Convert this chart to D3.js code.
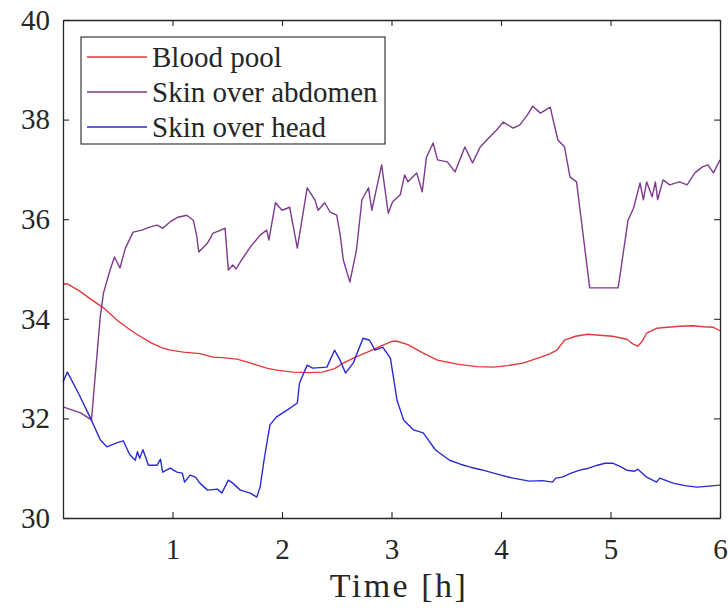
<!DOCTYPE html>
<html>
<head>
<meta charset="utf-8">
<script src="https://cdn.jsdelivr.net/npm/d3@7"></script>
<style>
  body { margin: 0; background: #ffffff; }
</style>
</head>
<body>
<svg id="svg" width="728" height="612"></svg>
<script>
//Data: [time in hours, temperature]
const bloodPool = [
  [0.00, 34.70], [0.04, 34.70], [0.15, 34.56], [0.25, 34.40], [0.37, 34.22], [0.50, 33.96],
  [0.60, 33.80], [0.68, 33.68], [0.80, 33.52], [0.90, 33.42], [0.98, 33.37], [1.10, 33.33],
  [1.25, 33.30], [1.37, 33.23], [1.45, 33.22], [1.59, 33.19], [1.70, 33.12], [1.80, 33.05],
  [1.86, 33.01], [1.95, 32.97], [2.10, 32.93], [2.25, 32.92], [2.37, 32.93], [2.48, 33.00],
  [2.56, 33.11], [2.66, 33.22], [2.78, 33.33], [2.90, 33.45], [3.01, 33.55], [3.05, 33.55],
  [3.15, 33.48], [3.28, 33.32], [3.42, 33.17], [3.60, 33.09], [3.78, 33.04], [3.93, 33.03],
  [4.06, 33.06], [4.20, 33.11], [4.35, 33.22], [4.45, 33.30], [4.51, 33.37], [4.58, 33.57],
  [4.68, 33.65], [4.79, 33.69], [4.90, 33.67], [5.02, 33.65], [5.15, 33.59], [5.20, 33.50],
  [5.25, 33.45], [5.29, 33.55], [5.33, 33.71], [5.42, 33.81], [5.52, 33.83], [5.63, 33.85],
  [5.75, 33.86], [5.85, 33.84], [5.94, 33.83], [6.00, 33.76]
];

const skinAbdomen = [
  [0.00, 32.23], [0.16, 32.11], [0.26, 31.97], [0.34, 34.04], [0.37, 34.52], [0.43, 34.98],
  [0.47, 35.24], [0.52, 35.02], [0.57, 35.42], [0.64, 35.74], [0.72, 35.78], [0.79, 35.84],
  [0.86, 35.88], [0.91, 35.82], [0.98, 35.95], [1.05, 36.04], [1.13, 36.08], [1.19, 35.98],
  [1.22, 35.68], [1.24, 35.34], [1.32, 35.52], [1.37, 35.72], [1.42, 35.76], [1.48, 35.82],
  [1.51, 34.98], [1.55, 35.08], [1.58, 35.00], [1.63, 35.18], [1.71, 35.44], [1.80, 35.68],
  [1.86, 35.78], [1.88, 35.58], [1.94, 36.33], [2.00, 36.18], [2.07, 36.24], [2.14, 35.42],
  [2.23, 36.63], [2.30, 36.39], [2.33, 36.18], [2.39, 36.33], [2.44, 36.14], [2.50, 36.08],
  [2.53, 35.70], [2.56, 35.18], [2.62, 34.74], [2.68, 35.38], [2.73, 36.39], [2.79, 36.63],
  [2.82, 36.18], [2.91, 37.09], [2.97, 36.12], [3.01, 36.35], [3.08, 36.49], [3.12, 36.89],
  [3.15, 36.75], [3.23, 36.93], [3.28, 36.55], [3.32, 37.25], [3.38, 37.53], [3.42, 37.19],
  [3.51, 37.15], [3.58, 36.95], [3.67, 37.45], [3.74, 37.13], [3.81, 37.45], [3.87, 37.59],
  [3.96, 37.79], [4.02, 37.95], [4.11, 37.83], [4.17, 37.89], [4.24, 38.09], [4.29, 38.27],
  [4.36, 38.13], [4.45, 38.25], [4.47, 38.05], [4.52, 37.59], [4.58, 37.45], [4.63, 36.85],
  [4.69, 36.75], [4.81, 34.62], [5.07, 34.62], [5.16, 35.98], [5.21, 36.22], [5.27, 36.73],
  [5.30, 36.39], [5.33, 36.75], [5.38, 36.45], [5.41, 36.75], [5.43, 36.39], [5.48, 36.79],
  [5.54, 36.69], [5.63, 36.75], [5.70, 36.69], [5.77, 36.93], [5.84, 37.05], [5.89, 37.09],
  [5.94, 36.93], [6.00, 37.19]
];

const skinHead = [
  [0.00, 32.73], [0.04, 32.93], [0.14, 32.51], [0.25, 32.01], [0.34, 31.57], [0.40, 31.43],
  [0.49, 31.51], [0.55, 31.55], [0.61, 31.27], [0.66, 31.16], [0.68, 31.33], [0.70, 31.20],
  [0.73, 31.37], [0.78, 31.06], [0.86, 31.06], [0.89, 31.18], [0.91, 30.92], [0.98, 31.00],
  [1.04, 30.92], [1.09, 30.90], [1.11, 30.72], [1.16, 30.86], [1.21, 30.82], [1.25, 30.70],
  [1.32, 30.56], [1.41, 30.58], [1.45, 30.50], [1.51, 30.76], [1.55, 30.70], [1.62, 30.56],
  [1.71, 30.50], [1.77, 30.42], [1.80, 30.62], [1.84, 31.22], [1.89, 31.87], [1.95, 32.03],
  [2.05, 32.17], [2.14, 32.31], [2.16, 32.71], [2.23, 33.07], [2.28, 33.01], [2.41, 33.03],
  [2.48, 33.37], [2.53, 33.17], [2.58, 32.91], [2.65, 33.11], [2.74, 33.61], [2.80, 33.57],
  [2.85, 33.37], [2.92, 33.43], [2.99, 33.21], [3.05, 32.37], [3.11, 31.97], [3.20, 31.77],
  [3.29, 31.71], [3.40, 31.37], [3.53, 31.16], [3.63, 31.08], [3.72, 31.02], [3.82, 30.97],
  [3.90, 30.92], [4.00, 30.86], [4.11, 30.80], [4.26, 30.74], [4.38, 30.75], [4.47, 30.72],
  [4.50, 30.80], [4.56, 30.82], [4.64, 30.90], [4.72, 30.96], [4.80, 31.00], [4.88, 31.06],
  [4.95, 31.10], [5.02, 31.10], [5.10, 31.02], [5.15, 30.96], [5.22, 30.94], [5.25, 30.98],
  [5.33, 30.82], [5.42, 30.72], [5.45, 30.80], [5.57, 30.70], [5.68, 30.65], [5.79, 30.62],
  [5.90, 30.64], [6.00, 30.66]
];

const seriesNames = ["Blood pool", "Skin over abdomen", "Skin over head"];
const seriesColors = ["#e2383a", "#7e3a8e", "#2a2ad2"];
const xTicks = [1, 2, 3, 4, 5, 6];
const yTicks = [30, 32, 34, 36, 38, 40];

//Layout
const LEFT = 63, RIGHT = 720, TOP = 20, BOTTOM = 518;
const AXIS_COLOR = "#262626";
const FONT = "'Liberation Serif', 'Times New Roman', Times, serif";

const svg = d3.select("svg");

const x = d3.scaleLinear().domain([0, 6]).range([LEFT, RIGHT]);
const y = d3.scaleLinear().domain([30, 40]).range([BOTTOM, TOP]);

//Lines
const line = d3.line()
  .x(d => x(d[0]))
  .y(d => y(d[1]));

[bloodPool, skinAbdomen, skinHead].forEach((data, i) => {
  svg.append("path")
    .attr("d", line(data))
    .attr("fill", "none")
    .attr("stroke", seriesColors[i])
    .attr("stroke-width", 1.4)
    .attr("stroke-linejoin", "round");
});

//Axes (box with inward ticks, MATLAB style)
function styleAxis(g) {
  g.attr("font-family", null).attr("font-size", null);
  g.selectAll(".domain").attr("stroke", AXIS_COLOR).attr("stroke-width", 1.3);
  g.selectAll(".tick line").attr("stroke", AXIS_COLOR).attr("stroke-width", 1.1);
  g.selectAll("text")
    .style("font-family", FONT)
    .style("font-size", "29px")
    .attr("fill", AXIS_COLOR);
}

svg.append("g")
  .attr("transform", "translate(0," + BOTTOM + ")")
  .call(d3.axisBottom(x).tickValues(xTicks).tickFormat(d3.format("d"))
    .tickSizeInner(-6).tickSizeOuter(0).tickPadding(20))
  .call(styleAxis);

svg.append("g")
  .attr("transform", "translate(0," + TOP + ")")
  .call(d3.axisTop(x).tickValues(xTicks).tickFormat("")
    .tickSizeInner(-6).tickSizeOuter(0))
  .call(styleAxis);

svg.append("g")
  .attr("transform", "translate(" + LEFT + ",0)")
  .call(d3.axisLeft(y).tickValues(yTicks).tickFormat(d3.format("d"))
    .tickSizeInner(-6).tickSizeOuter(0).tickPadding(13))
  .call(styleAxis);

svg.append("g")
  .attr("transform", "translate(" + RIGHT + ",0)")
  .call(d3.axisRight(y).tickValues(yTicks).tickFormat("")
    .tickSizeInner(-6).tickSizeOuter(0))
  .call(styleAxis);

//X label
svg.append("text")
  .attr("x", 399)
  .attr("y", 597)
  .attr("text-anchor", "middle")
  .attr("fill", AXIS_COLOR)
  .style("font-family", FONT)
  .style("font-size", "34px")
  .style("letter-spacing", "2.5px")
  .text("Time [h]");

//Legend
const legend = svg.append("g");
legend.append("rect")
  .attr("x", 81).attr("y", 37)
  .attr("width", 304).attr("height", 107)
  .attr("fill", "#ffffff")
  .attr("stroke", AXIS_COLOR)
  .attr("stroke-width", 1.1);

seriesNames.forEach((name, i) => {
  const rowY = 57 + i * 35;
  legend.append("line")
    .attr("x1", 87).attr("x2", 147)
    .attr("y1", rowY).attr("y2", rowY)
    .attr("stroke", seriesColors[i])
    .attr("stroke-width", 1.4);
  legend.append("text")
    .attr("x", 152)
    .attr("y", rowY + 10)
    .attr("fill", AXIS_COLOR)
    .style("font-family", FONT)
    .style("font-size", "29px")
    .text(name);
});
</script>
</body>
</html>
